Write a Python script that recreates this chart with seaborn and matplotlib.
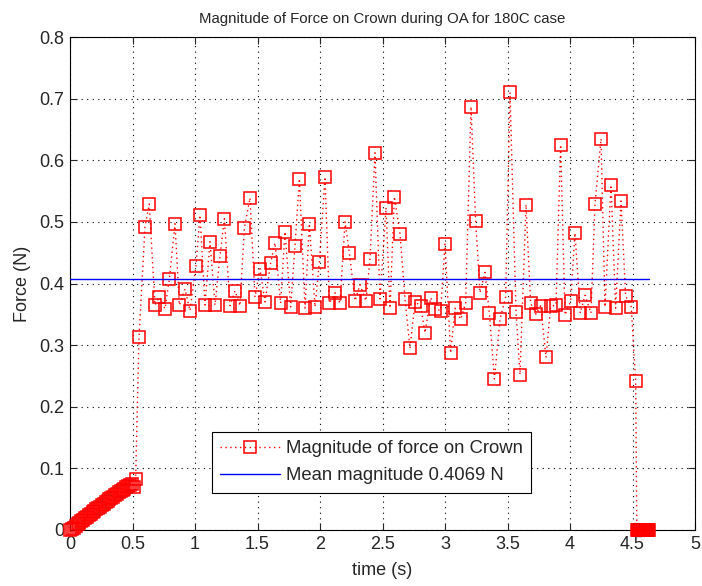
import matplotlib
matplotlib.use("Agg")
import matplotlib.pyplot as plt
import seaborn as sns
import pandas as pd

# Loading ramp at the start of the run
ramp_time = [0.000, 0.015, 0.030, 0.045, 0.060, 0.075, 0.090, 0.105, 0.120, 0.135,
             0.150, 0.165, 0.180, 0.195, 0.210, 0.225, 0.240, 0.255, 0.270, 0.285,
             0.300, 0.315, 0.330, 0.345, 0.360, 0.375, 0.390, 0.405, 0.420, 0.435,
             0.450, 0.465, 0.480, 0.495, 0.510, 0.525]
ramp_force = [0.000, 0.002, 0.004, 0.006, 0.009, 0.011, 0.014, 0.016, 0.019, 0.021,
              0.024, 0.026, 0.029, 0.031, 0.034, 0.036, 0.038, 0.040, 0.043, 0.045,
              0.047, 0.050, 0.052, 0.054, 0.056, 0.059, 0.061, 0.063, 0.065, 0.067,
              0.069, 0.071, 0.073, 0.075, 0.070, 0.083]

# Main phase of the OA cycle
main_time = [0.552, 0.600, 0.634, 0.680, 0.714, 0.760, 0.795, 0.840, 0.875, 0.920,
             0.960, 1.008, 1.040, 1.080, 1.120, 1.160, 1.200, 1.235, 1.280, 1.320,
             1.360, 1.395, 1.440, 1.480, 1.520, 1.560, 1.605, 1.640, 1.685, 1.720,
             1.765, 1.800, 1.835, 1.880, 1.915, 1.960, 1.995, 2.040, 2.075, 2.120,
             2.160, 2.200, 2.235, 2.280, 2.320, 2.368, 2.400, 2.440, 2.480, 2.528,
             2.560, 2.595, 2.640, 2.680, 2.720, 2.760, 2.805, 2.840, 2.885, 2.920,
             2.965, 3.000, 3.045, 3.080, 3.125, 3.165, 3.208, 3.245, 3.280, 3.320,
             3.355, 3.395, 3.440, 3.485, 3.520, 3.568, 3.600, 3.648, 3.685, 3.728,
             3.765, 3.808, 3.845, 3.888, 3.925, 3.960, 4.005, 4.040, 4.082, 4.120,
             4.168, 4.200, 4.248, 4.280, 4.328, 4.365, 4.408, 4.445, 4.490, 4.525]
main_force = [0.313, 0.492, 0.529, 0.365, 0.378, 0.359, 0.407, 0.497, 0.365, 0.391,
              0.356, 0.429, 0.511, 0.365, 0.468, 0.365, 0.445, 0.505, 0.364, 0.388,
              0.364, 0.490, 0.539, 0.378, 0.424, 0.370, 0.433, 0.466, 0.368, 0.484,
              0.362, 0.461, 0.570, 0.360, 0.497, 0.362, 0.435, 0.573, 0.368, 0.385,
              0.368, 0.500, 0.450, 0.372, 0.398, 0.372, 0.440, 0.612, 0.375, 0.523,
              0.360, 0.541, 0.481, 0.375, 0.295, 0.370, 0.364, 0.320, 0.377, 0.359,
              0.356, 0.464, 0.287, 0.360, 0.342, 0.368, 0.687, 0.502, 0.385, 0.418,
              0.352, 0.245, 0.342, 0.378, 0.710, 0.354, 0.252, 0.528, 0.368, 0.350,
              0.364, 0.280, 0.363, 0.365, 0.625, 0.349, 0.371, 0.482, 0.352, 0.381,
              0.352, 0.529, 0.635, 0.362, 0.560, 0.360, 0.534, 0.380, 0.362, 0.241]

# Unloaded tail
tail_time = [4.535, 4.540, 4.545, 4.550, 4.555, 4.560, 4.565, 4.570, 4.575, 4.580,
             4.585, 4.590, 4.595, 4.600, 4.605, 4.610, 4.615, 4.620, 4.625, 4.630]
tail_force = [0.0, 0.0, 0.0, 0.0, 0.0, 0.0, 0.0, 0.0, 0.0, 0.0,
              0.0, 0.0, 0.0, 0.0, 0.0, 0.0, 0.0, 0.0, 0.0, 0.0]

mean_force = 0.4069
mean_span = [0.0, 4.63]

x_ticks = [0, 0.5, 1, 1.5, 2, 2.5, 3, 3.5, 4, 4.5, 5]
x_tick_labels = ["0", "0.5", "1", "1.5", "2", "2.5", "3", "3.5", "4", "4.5", "5"]
y_ticks = [0, 0.1, 0.2, 0.3, 0.4, 0.5, 0.6, 0.7, 0.8]
y_tick_labels = ["0", "0.1", "0.2", "0.3", "0.4", "0.5", "0.6", "0.7", "0.8"]

force = pd.DataFrame({
    "time": ramp_time + main_time + tail_time,
    "force": ramp_force + main_force + tail_force,
})
mean_df = pd.DataFrame({"time": mean_span, "force": [mean_force, mean_force]})

sns.set_style("white")
plt.rcParams["font.family"] = ["Liberation Sans", "DejaVu Sans"]

fig = plt.figure(figsize=(7.02, 5.86), dpi=100)
ax = fig.add_axes([70 / 702, 1 - 530 / 586, 625 / 702, 493 / 586])

sns.lineplot(data=force, x="time", y="force", ax=ax, sort=False, estimator=None,
             color="red", linestyle=(0, (1, 2.5)), linewidth=1.0,
             marker="s", markersize=8.7, markerfacecolor="none",
             markeredgecolor="red", markeredgewidth=1.1, clip_on=False,
             label="Magnitude of force on Crown", zorder=3)
sns.lineplot(data=mean_df, x="time", y="force", ax=ax, sort=False, estimator=None,
             color="blue", linewidth=1.0,
             label=f"Mean magnitude {mean_force:.4f} N", zorder=4)

ax.set_xlim(0, 5)
ax.set_ylim(0, 0.8)
ax.set_xticks(x_ticks)
ax.set_xticklabels(x_tick_labels)
ax.set_yticks(y_ticks)
ax.set_yticklabels(y_tick_labels)

ax.grid(True, color="black", linestyle=(0, (1, 4)), linewidth=0.8)
ax.set_axisbelow(True)
for side in ax.spines.values():
    side.set_visible(True)
    side.set_color("black")
    side.set_linewidth(0.8)
ax.tick_params(direction="in", length=5, width=0.8, top=True, right=True,
               bottom=True, left=True, labelsize=13, pad=4)

ax.set_xlabel("time (s)", fontsize=13, labelpad=7)
ax.set_ylabel("Force (N)", fontsize=13, labelpad=6)
ax.set_title("Magnitude of Force on Crown during OA for 180C case", fontsize=10.8, pad=10)

leg = ax.legend(loc="upper left", bbox_to_anchor=(142 / 625, (530 - 432) / 493),
                fontsize=13.3, frameon=True, fancybox=False, edgecolor="black",
                framealpha=1.0, borderpad=0.45, handlelength=3.25, handletextpad=0.3,
                labelspacing=0.55, borderaxespad=0.0)
leg.get_frame().set_linewidth(0.8)

fig.savefig("out.png", dpi=100)
